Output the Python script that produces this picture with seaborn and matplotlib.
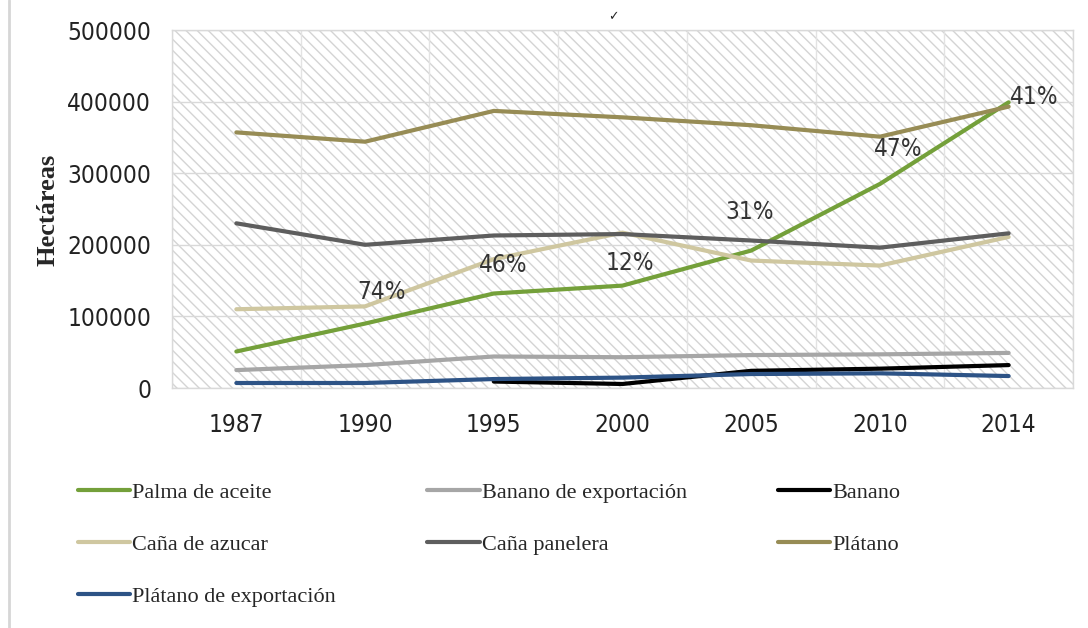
import numpy as np
import pandas as pd
import matplotlib
matplotlib.use("Agg")
import matplotlib.pyplot as plt
import seaborn as sns
from matplotlib.patches import Rectangle
from matplotlib.lines import Line2D
from matplotlib.ticker import MultipleLocator, FuncFormatter
from matplotlib import font_manager

years = ['1987', '1990', '1995', '2000', '2005', '2010', '2014']
palma_aceite = [51000, 90000, 132000, 143000, 192000, 285000, 399000]
banano_exportacion = [25000, 32000, 44000, 43000, 46000, 47000, 49000]
banano = [np.nan, np.nan, 9000, 5600, 24000, 27000, 32000]
cana_azucar = [110000, 114000, 180000, 217000, 178000, 171000, 211000]
cana_panelera = [230000, 200000, 213000, 215000, 206000, 196000, 216000]
platano = [357000, 344000, 387000, 378000, 367000, 351000, 393000]
platano_exportacion = [7000, 7000, 12500, 14500, 19500, 20500, 16700]

series_names = ['Palma de aceite', 'Banano de exportación', 'Banano',
                'Caña de azucar', 'Caña panelera', 'Plátano',
                'Plátano de exportación']
series_values = [palma_aceite, banano_exportacion, banano, cana_azucar,
                 cana_panelera, platano, platano_exportacion]
colors = ['#74A03A', '#A6A6A6', '#000000', '#CFC7A0', '#5E5E5E',
          '#978C55', '#2D5386']

pct_labels = ['74%', '46%', '12%', '31%', '47%', '41%']
pct_x = [1.13, 2.07, 3.06, 3.99, 5.14, 6.2]
pct_y = [133900, 171500, 175200, 246000, 334300, 407000]

rows = []
for name, vals in zip(series_names, series_values):
    for yr, v in zip(years, vals):
        rows.append({'Año': yr, 'Hectáreas': v, 'Cultivo': name})
df = pd.DataFrame(rows)

sns.set_style('white')

# pick a condensed sans font if available
cond_fp = None
for f in font_manager.fontManager.ttflist:
    n = (f.fname + ' ' + f.name).lower()
    if ('condensed' in n or 'narrow' in n) and 'bold' not in n and 'oblique' not in n \
            and 'italic' not in n and 'serif' not in n and 'mono' not in n:
        cond_fp = f.fname
        break
if cond_fp is not None:
    sans_prop = font_manager.FontProperties(fname=cond_fp, size=17.5)
else:
    sans_prop = font_manager.FontProperties(family='DejaVu Sans', size=14)
serif = ['Liberation Serif', 'DejaVu Serif']
plt.rcParams['font.family'] = ['DejaVu Sans']
plt.rcParams['hatch.linewidth'] = 1.0

fig = plt.figure(figsize=(10.88, 6.28), dpi=100)
ax = fig.add_axes([172/1088, 1-388/628, (1073-172)/1088, (388-30)/628])

ax.add_patch(Rectangle((0, 0), 1, 1, transform=ax.transAxes, facecolor='white',
                       edgecolor='#D4D4D4', linewidth=0, hatch='\\\\\\', zorder=0))

sns.lineplot(data=df, x='Año', y='Hectáreas', hue='Cultivo', hue_order=series_names,
             palette=colors, linewidth=3, sort=False, ax=ax, zorder=3)

ax.set_xlim(-0.5, 6.5)
ax.set_ylim(0, 500000)
ax.yaxis.set_major_locator(MultipleLocator(100000))
ax.xaxis.set_minor_locator(MultipleLocator(0.5))
ax.grid(True, axis='y', which='major', color='#D9D9D9', linewidth=1, zorder=1)
ax.grid(True, axis='x', which='minor', color='#E3E3E3', linewidth=1, zorder=1)
ax.set_axisbelow(True)
for s in ax.spines.values():
    s.set_color('#D9D9D9')
    s.set_linewidth(1)
ax.tick_params(axis='both', which='both', length=0, colors='#222222')
ax.tick_params(axis='x', pad=18)
ax.tick_params(axis='y', pad=15)
ax.set_xlabel('')
ax.set_ylabel('')
ax.yaxis.set_major_formatter(FuncFormatter(lambda v, p: f'{int(v)}'))
for lab in ax.get_xticklabels() + ax.get_yticklabels():
    lab.set_fontproperties(sans_prop)

for t, xx, yy in zip(pct_labels, pct_x, pct_y):
    ax.text(xx, yy, t, ha='center', va='center', color='#333333',
            zorder=5, fontproperties=sans_prop)

fig.text(48/1088, 1-210/628, 'Hectáreas', rotation=90, ha='center', va='center',
         fontsize=19, fontweight='bold', family=serif)

fig.text(613/1088, 1-17/628, '✓', ha='center', va='center', fontsize=9,
         fontweight='bold', family=['DejaVu Sans'])

fig.add_artist(Line2D([9/1088, 9/1088], [0, 1], color='#D6D6D6', linewidth=2))

handles, labels = ax.get_legend_handles_labels()
ax.get_legend().remove()
hmap = dict(zip(labels, handles))
order = ['Palma de aceite', 'Caña de azucar', 'Plátano de exportación',
         'Banano de exportación', 'Caña panelera', 'Banano', 'Plátano']
leg = fig.legend([hmap[o] for o in order], order, ncol=3,
                 loc='upper left', bbox_to_anchor=(58/1088, 1-462/628),
                 frameon=False, prop={'family': serif, 'size': 16},
                 handlelength=2.35, handletextpad=0.1, columnspacing=4.1,
                 labelspacing=1.42)
for lh in leg.get_lines():
    lh.set_linewidth(3)

fig.savefig('out.png', dpi=100)
